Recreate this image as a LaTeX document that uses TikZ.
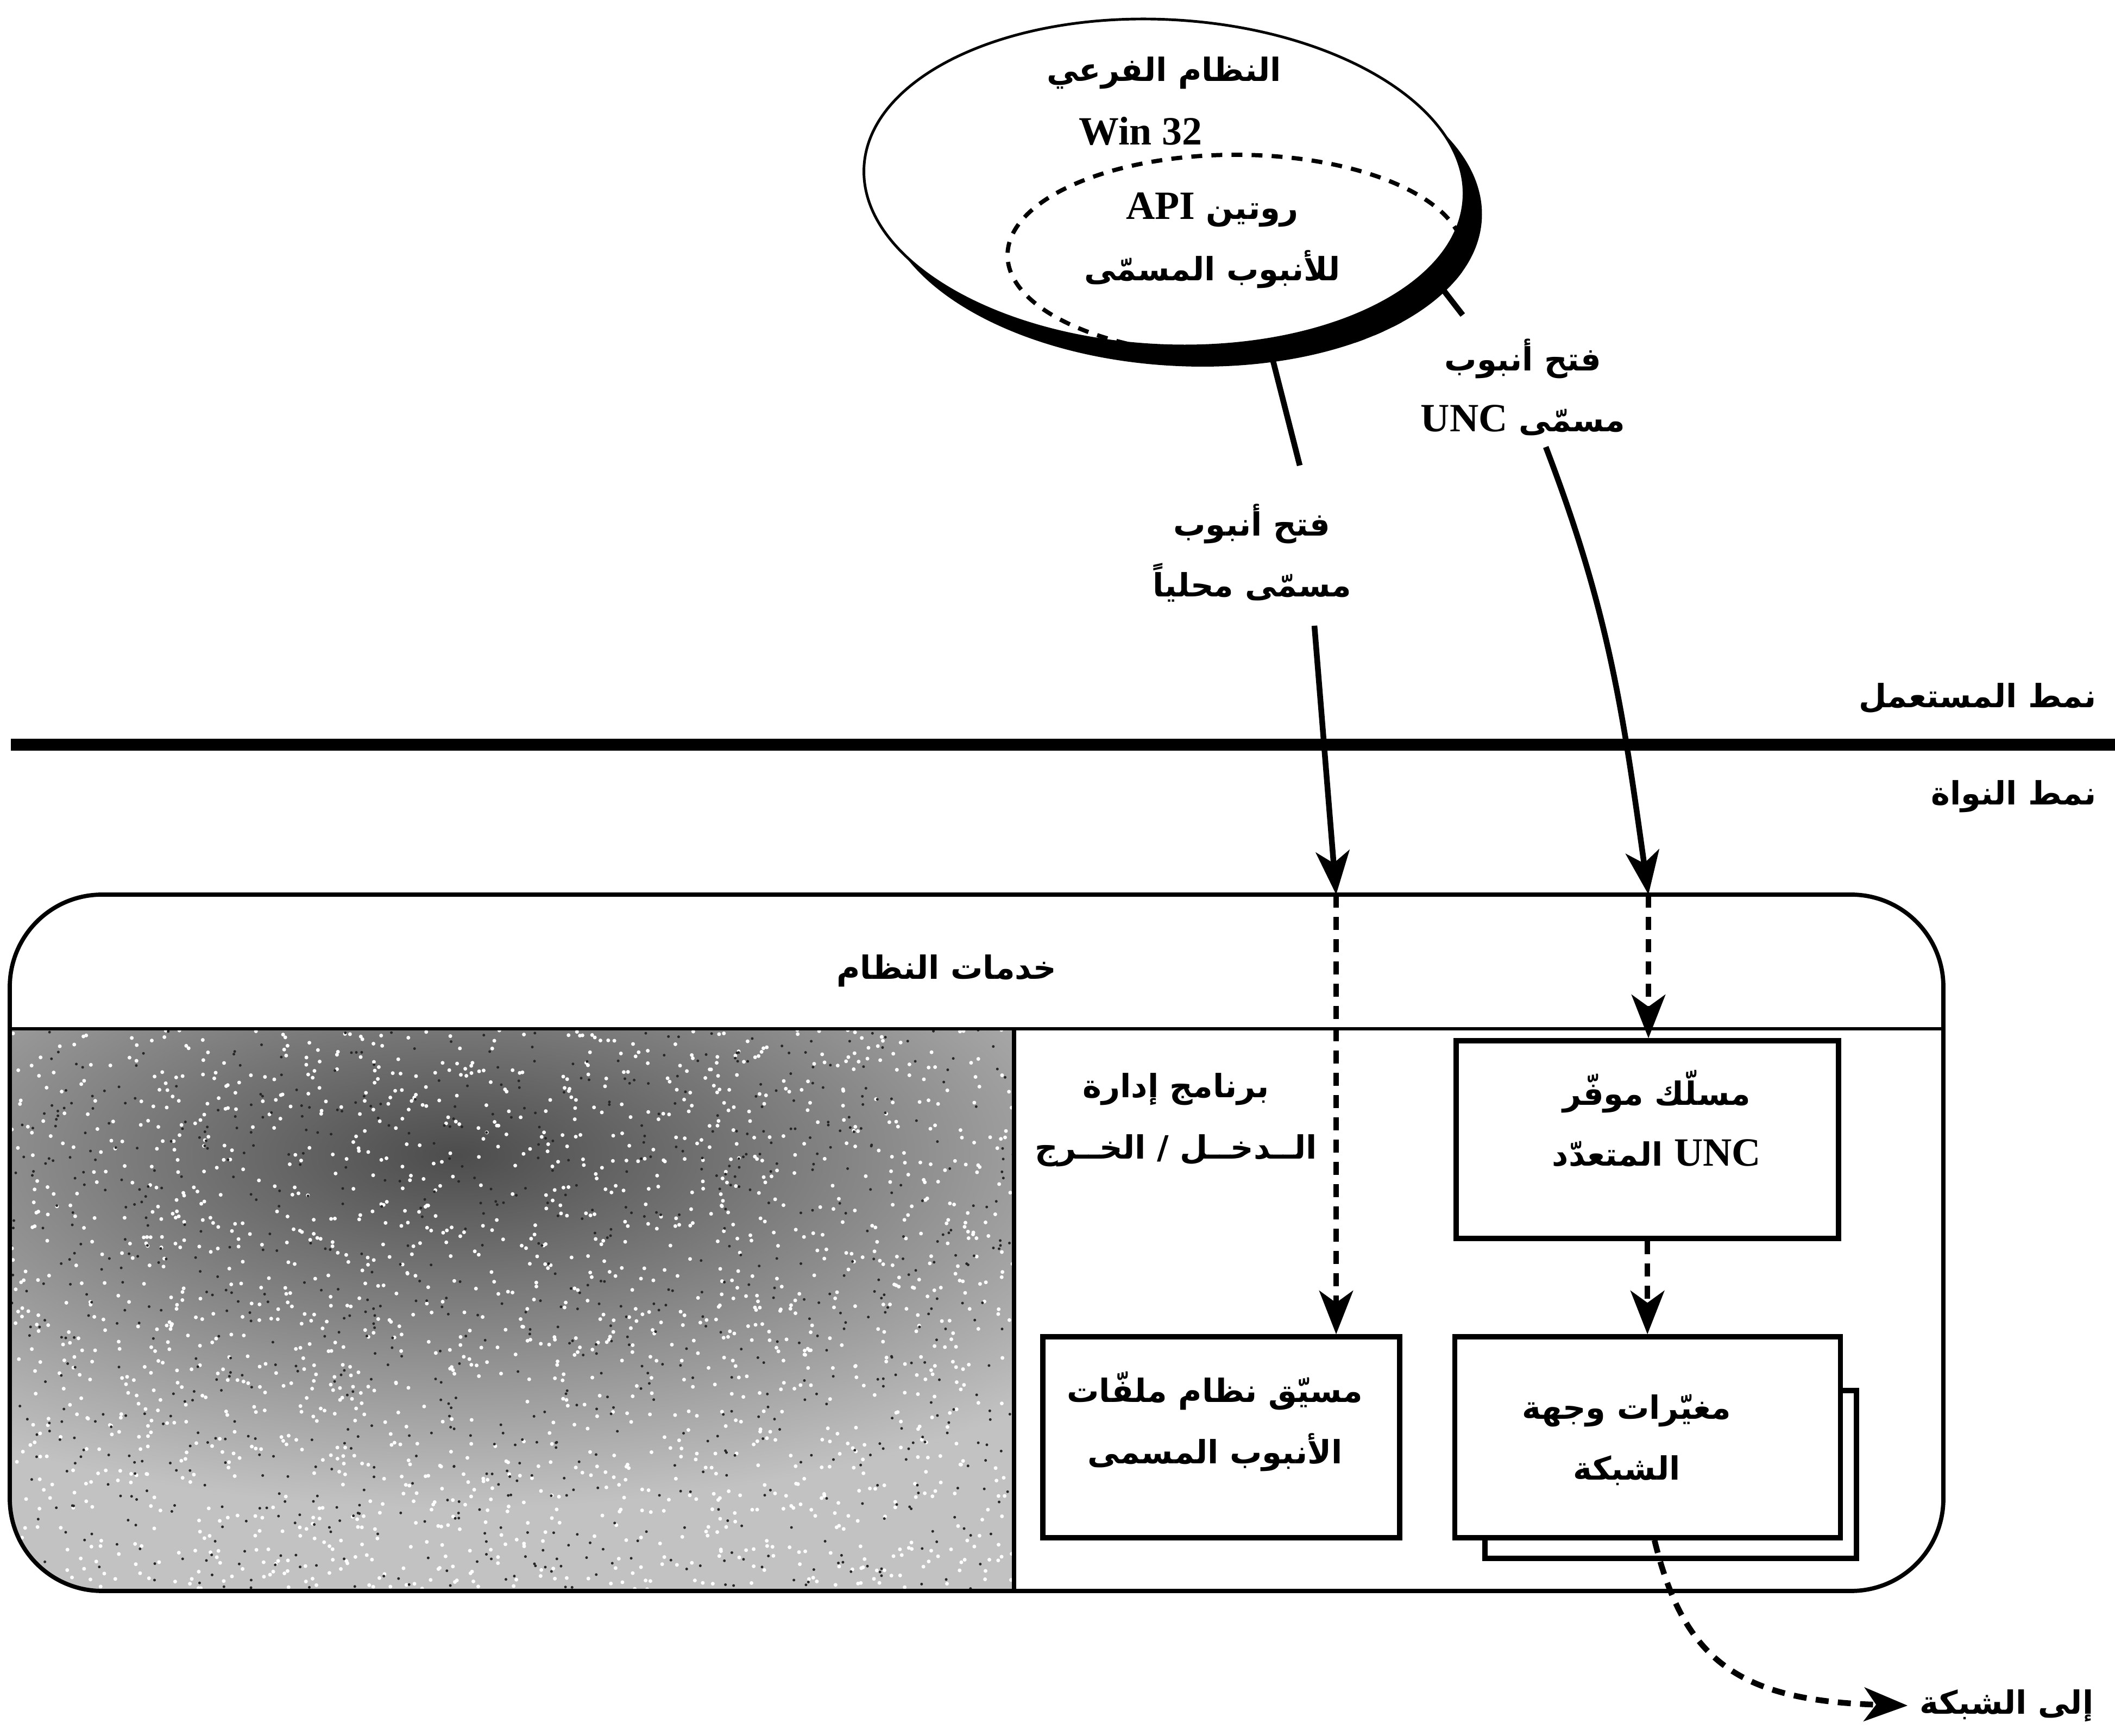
\documentclass[tikz,border=0pt]{standalone}
\usepackage{fontspec}
\usetikzlibrary{arrows.meta,positioning,shapes.geometric,shadows}
\setmainfont{Liberation Serif}
\newfontfamily\arabicfont[Script=Arabic,Scale=0.8]{DejaVu Sans}
\TeXXeTstate=1
\newcommand{\artxt}[1]{{\arabicfont\bfseries\beginR #1\endR}}
\newcommand{\lat}[1]{{\rmfamily\bfseries #1}}

\begin{document}
\begin{tikzpicture}[
    font=\fontsize{21}{32}\selectfont,
    box/.style={draw, line width=2.6pt, fill=white},
    txt/.style={align=center, inner sep=0pt},
    conn/.style={line width=3pt},
    arrow/.style={conn, -{Stealth[length=0.8cm, width=0.62cm, inset=0.22cm]}},
    dasharrow/.style={arrow, dash pattern=on 0.24cm off 0.17cm}
  ]
  \useasboundingbox (0,0) rectangle (38.94,31.96);

  % Win32 subsystem with the named pipe API inside
  \node[ellipse, draw, line width=1.4pt, fill=white, rotate=-3,
        minimum width=11.06cm, minimum height=6cm,
        drop shadow={shadow xshift=0.33cm, shadow yshift=-0.38cm,
                     fill=black, opacity=1}] (sub) at (21.43,28.6) {};
  \begin{scope}
    \clip[rotate around={-3:(21.76,28.22)}] (21.76,28.22) ellipse [x radius=5.53, y radius=3.0];
    \node[ellipse, draw, line width=2.2pt, dash pattern=on 0.2cm off 0.17cm,
          minimum width=8.4cm, minimum height=3.7cm] (api) at (22.75,27.26) {};
  \end{scope}
  \node[txt] (subname) at (21.43,30.62) {\artxt{النظام الفرعي}};
  \node[txt] (winver)  at (21.0,29.55)  {\lat{Win 32}};
  \node[txt] (apiname) at (22.32,27.53) {\artxt{روتين \lat{API}}\\\artxt{للأنبوب المسمّى}};

  % user / kernel boundary
  \draw[line width=6pt] (0.2,18.25) -- (38.94,18.25);
  \node[anchor=east, inner sep=0pt] (umode) at (38.6,19.10) {\artxt{نمط المستعمل}};
  \node[anchor=east, inner sep=0pt] (kmode) at (38.6,17.30) {\artxt{نمط النواة}};

  % system services block
  \begin{scope}
    \clip[rounded corners=1.7cm] (0.18,2.67) rectangle (35.78,15.49);
    \clip (0.18,2.67) rectangle (18.67,13.02);
    \fill[black!24] (0.18,2.67) rectangle (18.67,13.02);
    \shade[inner color=black!70, outer color=black!24] (8.4,10.7) ellipse [x radius=15, y radius=6.5];
    \pgfmathsetseed{7}
    \foreach \k in {1,...,1800} {
      \fill[white] ({0.2+18.45*rnd},{2.7+10.3*rnd}) circle (0.035);
    }
    \foreach \k in {1,...,900} {
      \fill[black!85] ({0.2+18.45*rnd},{2.7+10.3*rnd}) circle (0.025);
    }
  \end{scope}
  \node[draw, line width=2.2pt, rounded corners=1.7cm,
        minimum width=35.6cm, minimum height=12.82cm] (core) at (17.98,9.08) {};
  \coordinate (hdl) at (0.18,13.02);
  \coordinate (div) at (18.67,13.02);
  \draw[line width=1.8pt] (hdl) -- (hdl -| core.east);
  \draw[line width=2.2pt] (div) -- (div |- core.south);
  \node (svc) at (17.43,14.09) {\artxt{خدمات النظام}};
  \node[txt] (iomgr) at (21.65,11.34) {\artxt{برنامج إدارة}\\\artxt{الــدخــل / الخــرج}};

  \node[box, minimum width=7.04cm, minimum height=3.64cm] (unc) at (30.33,10.98) {};
  \node[box, minimum width=6.57cm, minimum height=3.7cm] (pfs) at (22.485,5.5) {};
  \node[box, minimum width=6.84cm, minimum height=3.09cm] (netback) at (30.76,4.815) {};
  \node[box, right=0.92cm of pfs, minimum width=7.1cm, minimum height=3.7cm] (net) {};
  \node[txt] (unctxt) at (30.5,11.37) {\artxt{مسلّك موفّر}\\\artxt{\lat{UNC} المتعدّد}};
  \node[txt] (pfstxt) at (22.37,5.79) {\artxt{مسيّق نظام ملفّات}\\\artxt{الأنبوب المسمى}};
  \node[txt] (nettxt) at (29.95,5.45) {\artxt{مغيّرات وجهة}\\\artxt{الشبكة}};

  % open calls
  \coordinate (sub-l) at (23.44,25.31);
  \coordinate (sub-r) at (26.52,26.69);
  \coordinate (unc-tick) at (26.93,26.16);
  \coordinate (lbl-in) at (23.93,23.39);
  \coordinate (lbl-out) at (24.2,20.44);
  \coordinate (inl) at (24.6,15.49);
  \coordinate (inr) at (30.35,15.49);
  \node[txt] (lblocal) at (23.05,21.78) {\artxt{فتح أنبوب}\\\artxt{مسمّى محلياً}};
  \node[txt] (lbunc) at (28.04,24.83) {\artxt{فتح أنبوب}\\\artxt{مسمّى \lat{UNC}}};
  \draw[conn] (sub-l) -- (lbl-in);
  \draw[arrow] (lbl-out) -- (inl);
  \draw[conn] (sub-r) -- (unc-tick);
  \draw[arrow] ([xshift=0.42cm, yshift=-0.2cm]lbunc.south) to[out=-69, in=98] (inr);
  \draw[dasharrow] (inl) -- (inl |- pfs.north);
  \draw[dasharrow] (inr) -- (inr |- unc.north);
  \draw[dasharrow] (unc.south -| net.north) -- (net.north);

  % out to the network
  \node[anchor=east, inner sep=0pt] (tonet) at (38.55,0.56) {\artxt{إلى الشبكة}};
  \draw[dasharrow] ([xshift=0.13cm]net.south) .. controls (31.0,1.4) and (32.0,0.65) .. ([xshift=-0.22cm]tonet.west);
\end{tikzpicture}
\end{document}
